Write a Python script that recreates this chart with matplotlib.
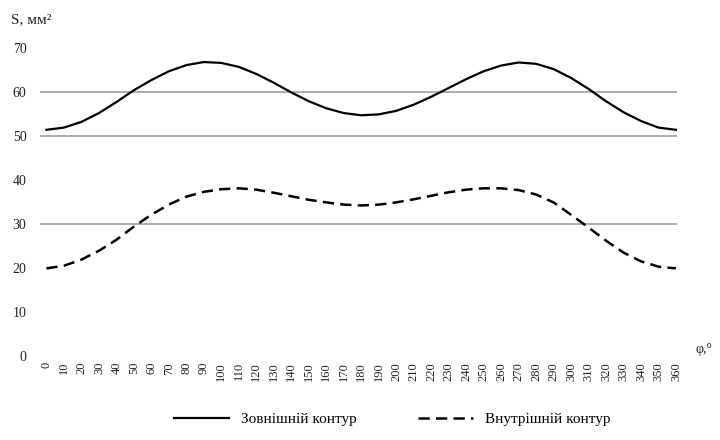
import matplotlib.pyplot as plt

# angle, degrees
phi = list(range(0, 361, 10))

outer = [51.5, 52.0, 53.3, 55.3, 57.8, 60.5, 62.8, 64.8, 66.2, 66.9,
         66.7, 65.8, 64.2, 62.2, 60.0, 58.0, 56.4, 55.3, 54.8, 55.0,
         55.8, 57.2, 59.0, 61.0, 63.0, 64.8, 66.1, 66.8, 66.5, 65.3,
         63.3, 60.8, 58.0, 55.5, 53.5, 52.0, 51.5]

inner = [20.0, 20.6, 22.0, 24.0, 26.5, 29.5, 32.2, 34.5, 36.3, 37.4,
         38.0, 38.2, 37.9, 37.2, 36.4, 35.6, 35.0, 34.5, 34.3, 34.5,
         35.0, 35.7, 36.5, 37.3, 37.9, 38.2, 38.2, 37.8, 36.8, 35.0,
         32.2, 29.3, 26.3, 23.6, 21.6, 20.4, 20.0]

y_ticks = [0, 10, 20, 30, 40, 50, 60, 70]
grid_levels = [30, 50, 60]

plt.rcParams['font.family'] = ['Liberation Serif', 'DejaVu Serif']

fig = plt.figure(figsize=(7.2, 4.4), dpi=100)
ax = fig.add_axes([0.056, 0.19, 0.884, 0.70])

for g in grid_levels:
    ax.axhline(g, color="#a0a0a0", linewidth=1.2, zorder=1)

ax.plot(phi, outer, color="black", linewidth=1.6, label="Зовнішній контур", zorder=3)
ax.plot(phi, inner, color="black", linewidth=1.8, linestyle=(0, (4.5, 2.5)),
        label="Внутрішній контур", zorder=3)

ax.set_xlim(-3.5, 360.5)
ax.set_ylim(0, 70)
ax.set_yticks(y_ticks)
ax.set_xticks(phi)
ax.set_xticklabels([str(p) for p in phi], rotation=90, fontsize=9, color="#222222")
ax.tick_params(axis="y", labelsize=10, colors="#222222", length=0, pad=10)
ax.tick_params(axis="x", length=0, pad=4)
for s in ax.spines.values():
    s.set_visible(False)

fig.text(0.015, 0.955, "S, мм²", fontsize=11, ha="left", va="center", color="#222222")
fig.text(0.978, 0.205, "φ,°", fontsize=10, ha="center", va="center", color="#222222")

fig.legend(loc="lower center", bbox_to_anchor=(0.545, 0.0), ncol=2, frameon=False,
           fontsize=11, handlelength=3.6, columnspacing=4.0)

fig.savefig("out.png", dpi=100)
